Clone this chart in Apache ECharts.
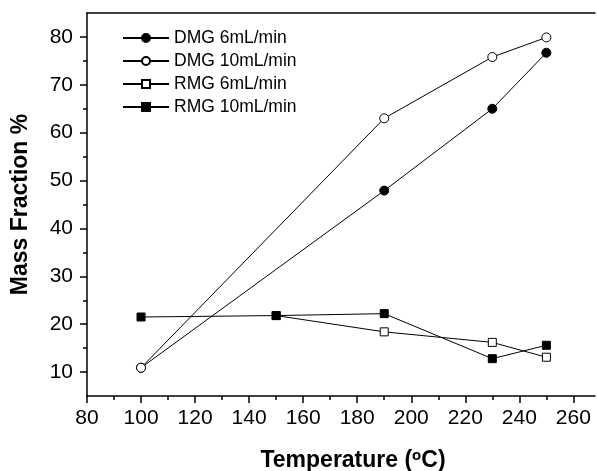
<!DOCTYPE html>
<html>
<head>
<meta charset="utf-8">
<script src="https://cdn.jsdelivr.net/npm/echarts@6/dist/echarts.min.js"></script>
<style>
html,body{margin:0;padding:0;background:#fff;}
#chart{width:597px;height:471px;}
</style>
</head>
<body>
<div id="chart"></div>
<script>
// ---- data ----
const dmg6X = [100, 190, 230, 250];
const dmg6Y = [10.9, 47.9, 65.0, 76.7];
const dmg10X = [100, 190, 230, 250];
const dmg10Y = [10.9, 63.0, 75.8, 79.9];
const rmg6X = [150, 190, 230, 250];
const rmg6Y = [21.8, 18.4, 16.2, 13.1];
const rmg10X = [100, 150, 190, 230, 250];
const rmg10Y = [21.5, 21.8, 22.2, 12.8, 15.6];
const seriesNames = ['DMG 6mL/min', 'DMG 10mL/min', 'RMG 6mL/min', 'RMG 10mL/min'];
const xTicks = [80, 100, 120, 140, 160, 180, 200, 220, 240, 260];
const xMinorTicks = [90, 110, 130, 150, 170, 190, 210, 230, 250];
const yTicks = [10, 20, 30, 40, 50, 60, 70, 80];
const yMinorTicks = [15, 25, 35, 45, 55, 65, 75];

function pairs(xs, ys) { return xs.map((x, i) => [x, ys[i]]); }

const FONT = '"Liberation Sans", Arial, sans-serif';
const chart = echarts.init(document.getElementById('chart'), null, {renderer: 'canvas'});

const axisLineStyle = {color: '#000', width: 1.5};

function mkSeries(name, xs, ys, symbol, fill, size) {
  return {
    name: name,
    type: 'line',
    data: pairs(xs, ys),
    symbol: symbol,
    symbolSize: size,
    showAllSymbol: true,
    lineStyle: {color: '#000', width: 1},
    itemStyle: {color: fill, borderColor: '#000', borderWidth: 1, opacity: 1},
    emphasis: {disabled: true},
    xAxisIndex: 0,
    yAxisIndex: 0
  };
}

const option = {
  animation: false,
  backgroundColor: '#fff',
  grid: {left: 87, right: 2, top: 13, bottom: 75, containLabel: false, outerBoundsMode: 'none'},
  legend: {
    left: 117,
    top: 24,
    orient: 'vertical',
    itemWidth: 46,
    itemHeight: 10,
    itemGap: 5,
    data: seriesNames,
    textStyle: {fontFamily: FONT, fontSize: 17.5, color: '#000', lineHeight: 17.5}
  },
  xAxis: [
    {
      type: 'value', min: 80, max: 268, position: 'bottom',
      name: 'Temperature ({s|o}C)',
      nameLocation: 'middle', nameGap: 52,
      nameTextStyle: {fontFamily: FONT, fontSize: 23, fontWeight: 'bold', color: '#000', padding: [0, 0, 0, 24],
        rich: {s: {fontFamily: FONT, fontSize: 15, fontWeight: 'bold', color: '#000', verticalAlign: 'top', padding: [0, 0, 10, 0]}}},
      axisLine: {show: true, lineStyle: axisLineStyle},
      axisTick: {show: true, inside: false, length: 7, lineStyle: axisLineStyle, customValues: xTicks},
      axisLabel: {fontFamily: FONT, fontSize: 21, color: '#000', margin: 12, customValues: xTicks},
      splitLine: {show: false}
    },
    {
      type: 'value', min: 80, max: 268, position: 'bottom',
      axisLine: {show: false},
      axisTick: {show: true, inside: false, length: 4, lineStyle: axisLineStyle, customValues: xMinorTicks},
      axisLabel: {show: false},
      splitLine: {show: false}
    },
    {
      type: 'value', min: 80, max: 268, position: 'top',
      axisLine: {show: true, lineStyle: axisLineStyle},
      axisTick: {show: false},
      axisLabel: {show: false},
      splitLine: {show: false}
    }
  ],
  yAxis: [
    {
      type: 'value', min: 5, max: 85, position: 'left',
      name: 'Mass Fraction %',
      nameLocation: 'middle', nameGap: 55, nameRotate: 90,
      nameTextStyle: {fontFamily: FONT, fontSize: 23, fontWeight: 'bold', color: '#000'},
      axisLine: {show: true, lineStyle: axisLineStyle},
      axisTick: {show: true, inside: false, length: 7, lineStyle: axisLineStyle, customValues: yTicks},
      axisLabel: {fontFamily: FONT, fontSize: 21, color: '#000', margin: 14, customValues: yTicks},
      splitLine: {show: false}
    },
    {
      type: 'value', min: 5, max: 85, position: 'left',
      axisLine: {show: false},
      axisTick: {show: true, inside: false, length: 4, lineStyle: axisLineStyle, customValues: yMinorTicks},
      axisLabel: {show: false},
      splitLine: {show: false}
    }
  ],
  series: [
    mkSeries(seriesNames[0], dmg6X, dmg6Y, 'circle', '#000', 9),
    mkSeries(seriesNames[1], dmg10X, dmg10Y, 'circle', '#fff', 9),
    mkSeries(seriesNames[2], rmg6X, rmg6Y, 'rect', '#fff', 8),
    mkSeries(seriesNames[3], rmg10X, rmg10Y, 'rect', '#000', 8)
  ]
};
chart.setOption(option);
</script>
</body>
</html>
